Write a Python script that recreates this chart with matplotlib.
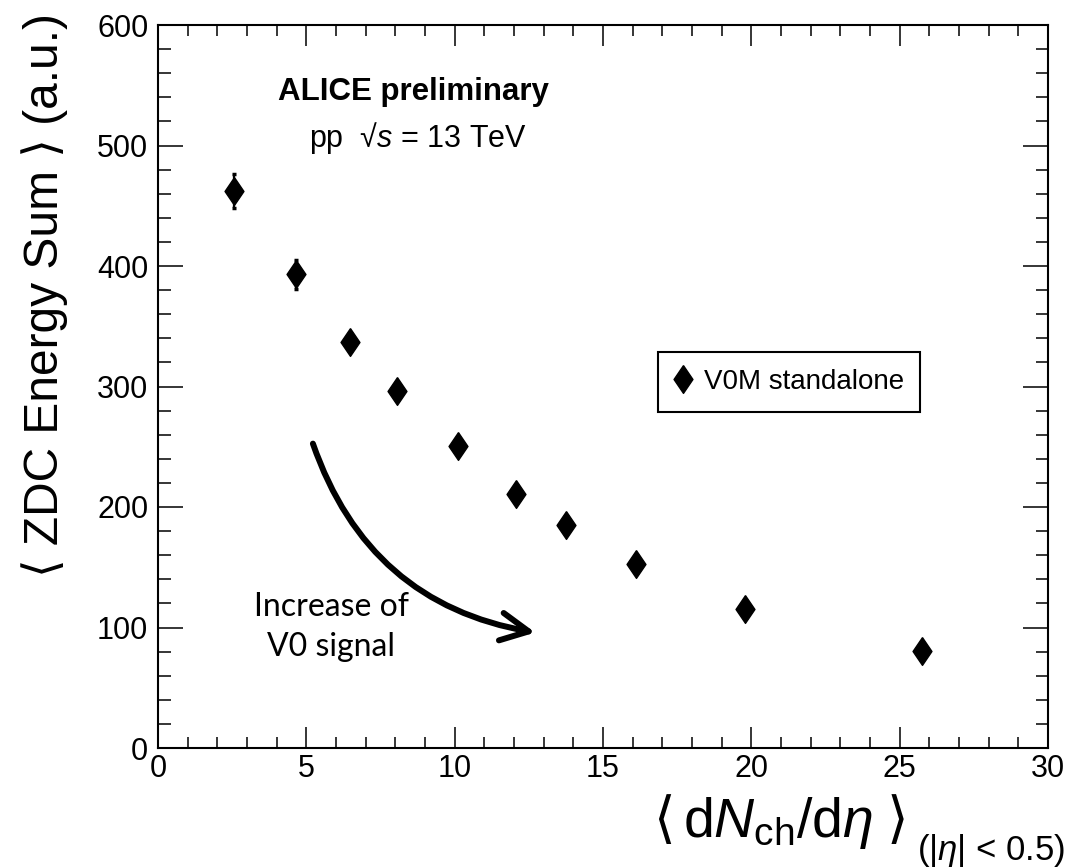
import matplotlib
matplotlib.use("Agg")
import matplotlib.pyplot as plt
from matplotlib.patches import FancyArrowPatch
from matplotlib.ticker import MultipleLocator

# --- data ---
dndeta = [2.55, 4.65, 6.47, 8.05, 10.1, 12.06, 13.75, 16.1, 19.8, 25.74]
zdc_sum = [462, 393, 337, 296, 250.6, 210.8, 185, 152.4, 115, 80.5]
zdc_err = [14, 12, 4, 4, 4, 3, 3, 3, 3, 3]
series_label = "V0M standalone"
x_ticks = [0, 5, 10, 15, 20, 25, 30]
y_ticks = [0, 100, 200, 300, 400, 500, 600]

plt.rcParams['font.family'] = ['Liberation Sans', 'DejaVu Sans']
plt.rcParams['mathtext.fontset'] = 'custom'
plt.rcParams['mathtext.rm'] = 'Liberation Sans'
plt.rcParams['mathtext.it'] = 'Liberation Sans:italic'
plt.rcParams['mathtext.bf'] = 'Liberation Sans:bold'

W, H = 1071, 868
fig = plt.figure(figsize=(W / 100, H / 100), dpi=100)
ax = fig.add_axes([158 / W, 1 - 748 / H, (1048 - 158) / W, (748 - 25) / H])

# diamond marker like ROOT's style 33
diamond = [(0, 1), (0.68, 0), (0, -1), (-0.68, 0), (0, 1)]

ax.errorbar(dndeta, zdc_sum, yerr=zdc_err, fmt='none', ecolor='black',
            elinewidth=1.6, capsize=1.5, capthick=2.5, zorder=2)
pts, = ax.plot(dndeta, zdc_sum, linestyle='none', marker=diamond,
               markersize=20, color='black', zorder=3)

ax.set_xlim(0, 30)
ax.set_ylim(0, 600)
ax.set_xticks(x_ticks)
ax.set_yticks(y_ticks)
ax.xaxis.set_minor_locator(MultipleLocator(1))
ax.yaxis.set_minor_locator(MultipleLocator(20))
ax.tick_params(axis='both', which='both', direction='in', top=True, right=True,
               labelsize=22, width=1.1, colors='black')
ax.tick_params(axis='x', which='major', length=15, pad=4)
ax.tick_params(axis='x', which='minor', length=8)
ax.tick_params(axis='y', which='major', length=18, pad=7)
ax.tick_params(axis='y', which='minor', length=9)
for s in ax.spines.values():
    s.set_linewidth(1.5)

# axis titles
fig.text(45 / W, 1 - 295 / H, "\u27e8 ZDC Energy Sum \u27e9 (a.u.)",
         rotation=90, ha='center', va='center', fontsize=34.5)

xb = 1 - 837 / H  # baseline of the x title
fig.text(653 / W, xb, "\u27e8", ha='left', va='baseline', fontsize=40)
fig.text(873 / W, xb, "d$N_{\\mathrm{ch}}$/d$\\eta$", ha='right', va='baseline',
         fontsize=40)
fig.text(887 / W, xb, "\u27e9", ha='left', va='baseline', fontsize=40)
fig.text(1065 / W, 1 - 860 / H, "(|$\\eta$| < 0.5)",
         ha='right', va='baseline', fontsize=25)

# header text
ax.text(413 / W, 1 - 100 / H, "ALICE preliminary", transform=fig.transFigure,
        ha='center', va='baseline', fontsize=22.5, fontweight='bold')
ax.text(418 / W, 1 - 147 / H, "pp  \u221a$s$ = 13 TeV", transform=fig.transFigure,
        ha='center', va='baseline', fontsize=22)

# legend
leg = ax.legend([pts], [series_label], loc='center',
                bbox_to_anchor=(789 / W, 1 - 382 / H), bbox_transform=fig.transFigure,
                frameon=True, fancybox=False, edgecolor='black', framealpha=1,
                fontsize=20, borderpad=0.6, handlelength=0.6, handletextpad=0.45,
                borderaxespad=0)
leg.get_frame().set_linewidth(1.5)

# curved arrow + note
arrow = FancyArrowPatch((312, H - 441), (538, H - 633), transform=None,
                        connectionstyle="arc3,rad=0.3", arrowstyle="->",
                        mutation_scale=50, linewidth=4.3, color='black',
                        capstyle='round', joinstyle='round')
fig.patches.append(arrow)
fig.text(331 / W, 1 - 627 / H, "Increase of\nV0 signal", ha='center', va='center',
         fontsize=23, family=['Lato', 'DejaVu Sans'], linespacing=1.45)

fig.savefig("out.png", dpi=100)
